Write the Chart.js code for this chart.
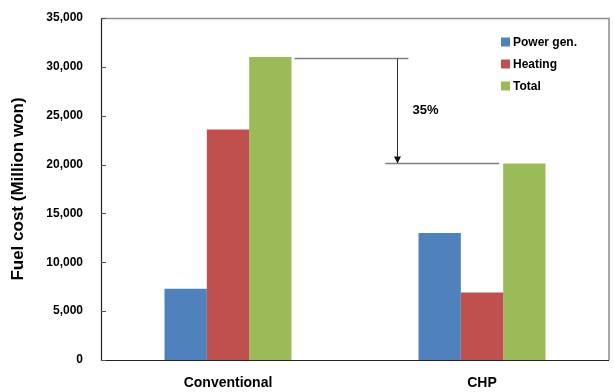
<!DOCTYPE html>
<html>
<head>
<meta charset="utf-8">
<script src="https://cdn.jsdelivr.net/npm/chart.js@4/dist/chart.umd.min.js"></script>
<style>
  html, body { margin: 0; padding: 0; background: #fff; }
  #wrap { width: 614px; height: 392px; }
</style>
</head>
<body>
<div id="wrap"><canvas id="fuel"></canvas></div>
<script>
    const categories = ['Conventional', 'CHP'];
    const powerGen = [7300, 13000];
    const heating = [23600, 6900];
    const total = [31000, 20100];
    const reductionLabel = '35%';
    const yTicks = [0, 5000, 10000, 15000, 20000, 25000, 30000, 35000];

    const blue = '#4F81BD';
    const red = '#C0504D';
    const green = '#9BBB59';
    const fontFamily = '"Liberation Sans", Arial, sans-serif';

    // box around the plot, inner tick marks, legend and the 35% arrow
    var decorations = {
        id: 'decorations',
        afterDatasetsDraw: function(chart) {
            const ctx = chart.ctx;
            const a = chart.chartArea;
            const x = chart.scales.x;
            const y = chart.scales.y;
            ctx.save();

            // frame: grey top/right, dark left/bottom
            ctx.strokeStyle = '#8c8c8c';
            ctx.lineWidth = 1.5;
            ctx.beginPath();
            ctx.moveTo(a.left, a.top + 0.5);
            ctx.lineTo(a.right, a.top + 0.5);
            ctx.lineTo(a.right, a.bottom);
            ctx.stroke();
            ctx.strokeStyle = '#222';
            ctx.lineWidth = 1.2;
            ctx.beginPath();
            ctx.moveTo(a.left + 0.5, a.top);
            ctx.lineTo(a.left + 0.5, a.bottom + 0.5);
            ctx.lineTo(a.right, a.bottom + 0.5);
            ctx.stroke();

            // tick marks pointing into the plot
            ctx.strokeStyle = '#555';
            ctx.lineWidth = 1;
            yTicks.forEach(function(v) {
                const py = Math.round(y.getPixelForValue(v)) + 0.5;
                ctx.beginPath();
                ctx.moveTo(a.left, py);
                ctx.lineTo(a.left + 5, py);
                ctx.stroke();
            });

            // legend
            ctx.font = 'bold 12px ' + fontFamily;
            ctx.textBaseline = 'middle';
            ctx.textAlign = 'left';
            chart.data.datasets.forEach(function(ds, i) {
                const ly = 42 + i * 22;
                ctx.fillStyle = ds.backgroundColor;
                ctx.fillRect(501, ly - 4.5, 9, 9);
                ctx.fillStyle = '#000';
                ctx.fillText(ds.label, 513, ly + 0.5);
            });

            // reduction arrow between the two totals
            const totalBars = chart.getDatasetMeta(2).data;
            const yHigh = y.getPixelForValue(total[0]) + 1.5;
            const yLow = y.getPixelForValue(total[1]);
            const arrowX = Math.round(x.getPixelForValue(0.665)) + 0.5;
            ctx.strokeStyle = '#7f7f7f';
            ctx.lineWidth = 1.5;
            ctx.beginPath();
            ctx.moveTo(totalBars[0].x + totalBars[0].width / 2 + 3, yHigh);
            ctx.lineTo(x.getPixelForValue(0.71), yHigh);
            ctx.moveTo(x.getPixelForValue(0.62), yLow);
            ctx.lineTo(totalBars[1].x - totalBars[1].width / 2 - 4, yLow);
            ctx.stroke();
            ctx.strokeStyle = '#333';
            ctx.lineWidth = 1;
            ctx.beginPath();
            ctx.moveTo(arrowX, yHigh);
            ctx.lineTo(arrowX, yLow - 6);
            ctx.stroke();
            ctx.fillStyle = '#111';
            ctx.beginPath();
            ctx.moveTo(arrowX - 3.5, yLow - 7);
            ctx.lineTo(arrowX + 3.5, yLow - 7);
            ctx.lineTo(arrowX, yLow);
            ctx.closePath();
            ctx.fill();

            ctx.font = 'bold 13px ' + fontFamily;
            ctx.fillStyle = '#000';
            ctx.fillText(reductionLabel, arrowX + 15, (yHigh + yLow) / 2 - 0.5);
            ctx.restore();
        }
    };

    new Chart(document.getElementById('fuel'), {
        type: 'bar',
        data: {
            labels: categories,
            datasets: [
                { label: 'Power gen.', data: powerGen, backgroundColor: blue },
                { label: 'Heating', data: heating, backgroundColor: red },
                { label: 'Total', data: total, backgroundColor: green }
            ]
        },
        options: {
            responsive: true,
            maintainAspectRatio: false,
            animation: false,
            layout: { padding: { top: 18, right: 5, left: 0, bottom: 0 } },
            datasets: { bar: { barPercentage: 1, categoryPercentage: 0.5 } },
            plugins: {
                legend: { display: false },
                tooltip: { enabled: false }
            },
            scales: {
                x: {
                    grid: { display: false, drawTicks: false },
                    border: { display: false },
                    ticks: {
                        padding: 15,
                        color: '#000',
                        font: { family: fontFamily, size: 14, weight: 'bold' }
                    },
                    afterFit: function(s) {
                        s.height = 32;
                        s.paddingLeft = 0;
                        s.paddingRight = 0;
                    }
                },
                y: {
                    min: 0,
                    max: 35000,
                    grid: { display: false, drawTicks: false },
                    border: { display: false },
                    afterBuildTicks: function(s) {
                        s.ticks = yTicks.map(function(v) { return { value: v }; });
                    },
                    ticks: {
                        padding: 18,
                        color: '#000',
                        font: { family: fontFamily, size: 12, weight: 'bold' },
                        callback: function(v) { return v.toLocaleString('en-US'); }
                    },
                    title: {
                        display: true,
                        text: 'Fuel cost (Million won)',
                        color: '#000',
                        padding: { top: 8, bottom: 0 },
                        font: { family: fontFamily, size: 17, weight: 'bold' }
                    },
                    afterFit: function(s) {
                        s.width = 101;
                        s.paddingTop = 0;
                        s.paddingBottom = 0;
                    }
                }
            }
        },
        plugins: [decorations]
    });
</script>
</body>
</html>
